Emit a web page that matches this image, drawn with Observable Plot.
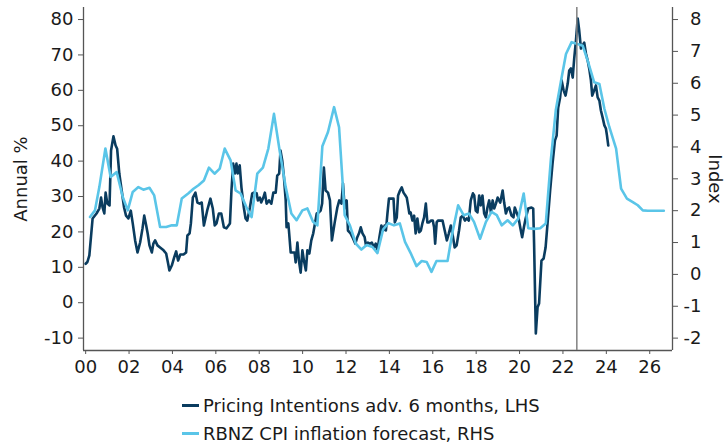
<!DOCTYPE html>
<html><head><meta charset="utf-8">
<script src="https://cdn.jsdelivr.net/npm/d3@7"></script>
<script src="https://cdn.jsdelivr.net/npm/@observablehq/plot@0.6"></script>
<style>
body{margin:0;background:#fff;font-family:"DejaVu Sans",Verdana,sans-serif;}
#chart svg{display:block}
#legend{margin-left:182px;margin-top:3px;font-size:18px;color:#1a1a1a}
.item{display:flex;align-items:center;height:28px;white-space:nowrap}
.sw{width:17px;height:3px;margin-right:4px}
</style></head><body><div id="chart"></div><div id="legend"></div>
<script>
// Pricing Intentions adv. 6 months (LHS, annual %)
const piYears = [2000.0,2000.08,2000.17,2000.32,2000.5,2000.63,2000.71,2000.78,2000.86,2000.92,2001.0,2001.1,2001.17,2001.28,2001.38,2001.45,2001.55,2001.66,2001.77,2001.86,2001.97,2002.08,2002.17,2002.28,2002.39,2002.51,2002.62,2002.7,2002.79,2002.86,2002.94,2003.05,2003.12,2003.2,2003.31,2003.43,2003.59,2003.71,2003.8,2003.86,2003.97,2004.08,2004.17,2004.26,2004.36,2004.51,2004.63,2004.69,2004.79,2004.85,2004.94,2005.06,2005.15,2005.25,2005.35,2005.45,2005.6,2005.75,2005.86,2005.95,2006.03,2006.14,2006.25,2006.37,2006.49,2006.65,2006.72,2006.8,2006.88,2006.95,2007.01,2007.1,2007.18,2007.29,2007.37,2007.45,2007.57,2007.68,2007.75,2007.88,2007.94,2008.03,2008.09,2008.19,2008.26,2008.34,2008.45,2008.56,2008.65,2008.76,2008.83,2008.92,2008.98,2009.06,2009.14,2009.22,2009.26,2009.34,2009.37,2009.45,2009.54,2009.63,2009.68,2009.76,2009.83,2009.91,2009.99,2010.06,2010.15,2010.22,2010.31,2010.4,2010.49,2010.57,2010.65,2010.75,2010.83,2010.9,2010.98,2011.06,2011.17,2011.26,2011.35,2011.48,2011.6,2011.69,2011.79,2011.86,2011.94,2012.03,2012.09,2012.21,2012.32,2012.43,2012.52,2012.6,2012.68,2012.76,2012.86,2012.92,2013.01,2013.1,2013.19,2013.29,2013.37,2013.45,2013.54,2013.63,2013.72,2013.78,2013.84,2013.91,2013.98,2014.09,2014.19,2014.25,2014.34,2014.4,2014.49,2014.57,2014.65,2014.74,2014.8,2014.86,2014.92,2014.98,2015.06,2015.14,2015.21,2015.29,2015.37,2015.45,2015.52,2015.6,2015.68,2015.75,2015.83,2015.91,2016.0,2016.06,2016.11,2016.18,2016.24,2016.34,2016.45,2016.55,2016.65,2016.74,2016.83,2016.92,2017.01,2017.1,2017.21,2017.29,2017.38,2017.48,2017.57,2017.66,2017.75,2017.85,2017.91,2017.98,2018.06,2018.14,2018.21,2018.29,2018.37,2018.45,2018.52,2018.6,2018.68,2018.76,2018.83,2018.91,2018.99,2019.11,2019.22,2019.29,2019.37,2019.45,2019.52,2019.63,2019.72,2019.78,2019.88,2019.95,2020.03,2020.12,2020.2,2020.28,2020.4,2020.55,2020.63,2020.67,2020.75,2020.83,2020.9,2021.01,2021.11,2021.2,2021.29,2021.41,2021.52,2021.63,2021.71,2021.78,2021.87,2021.94,2022.03,2022.12,2022.22,2022.29,2022.37,2022.45,2022.52,2022.6,2022.68,2022.75,2022.83,2022.91,2022.98,2023.06,2023.14,2023.21,2023.29,2023.35,2023.44,2023.52,2023.6,2023.68,2023.75,2023.83,2023.91,2023.98,2024.03,2024.09];
const piValues = [11,11.5,13.4,23.8,25.2,26.6,29.7,26.9,25.2,31.1,28,27.5,43,47,44.4,43.5,36.5,31.7,26.9,24.6,23.8,26,22.4,17.6,14.2,17,21,24.6,21.8,19.5,16.2,14.2,16.7,17.6,16.2,15.6,14.8,13.9,11.1,9.1,10.5,12.8,14.5,11.9,13.6,13.6,14.2,19,19.6,22.4,29.7,31.1,28.3,28,28.3,21.8,26,29.4,26.6,21.8,22.4,25.2,25.2,21.3,21,22.4,31.7,39.3,36.5,39.3,36.5,38.8,32.6,26.9,23.8,23.2,26.9,30.9,31.1,30.9,28.9,29.7,28.3,29.7,31.1,28,28.9,28,31.1,31.1,35.9,36.5,43,40.2,35.4,28.9,21.3,22.4,20.4,14.2,14.2,14.2,11.4,17,11.9,8.5,14.8,11.9,9.1,14.8,13.9,17.6,19.6,22.4,25.2,25.5,26,28,38.2,31.7,31.1,28.9,17.6,22.7,26.9,28.9,28,33.7,26.6,28.9,20.4,19.6,18.2,16.7,18.5,19.6,21.3,19.6,18.5,16.2,17,16.7,17,15.6,16.7,14.8,18.5,21.8,20.4,21.8,20.4,25.2,29.4,29.4,29.4,22.7,24.1,30.3,31.7,32.6,31.1,30.3,29.7,27.5,25.2,25.5,23.2,24.6,19.6,23.8,19.9,20.4,22.4,24.1,28,22.7,22.7,23.2,23.2,21.3,16.7,22.7,23.2,23.2,23.2,20.4,17.6,19.6,21.8,19,15.6,16.2,20.4,24.1,24.6,23.2,23.8,23.2,28.9,30.9,30.3,26,25.5,30.3,27.5,30.3,25.2,24.1,26.9,28.9,25.5,28.9,26.6,28,29.7,28.3,31.7,28.3,25.2,26.6,26.9,24.6,24.1,26.9,25.2,24.1,21.3,18.5,21.3,23.8,26.6,26.9,26.6,16.7,-8.7,-1.3,-0.2,11.9,12.5,15.6,22.4,31.7,39.3,45.8,47.2,55.1,58,62.8,60,58.5,61.9,65.6,66.2,63.6,69,74.1,80.3,76.9,71.8,72.7,73.5,70.4,68.4,66.2,62.8,58.5,60,61.4,58,57.1,54.3,52.3,50.1,49.2,47.2,44.4];

// RBNZ CPI inflation forecast (RHS, index)
const cpiYears = [2000.2,2000.43,2000.63,2000.91,2001.15,2001.43,2001.71,2001.94,2002.17,2002.43,2002.66,2002.94,2003.16,2003.43,2003.71,2003.97,2004.2,2004.43,2004.74,2004.97,2005.2,2005.45,2005.68,2005.94,2006.18,2006.41,2006.68,2006.91,2007.14,2007.4,2007.65,2007.91,2008.17,2008.42,2008.68,2008.94,2009.22,2009.48,2009.72,2009.99,2010.22,2010.48,2010.68,2010.91,2011.17,2011.45,2011.68,2011.94,2012.18,2012.45,2012.71,2012.95,2013.22,2013.45,2013.71,2013.95,2014.21,2014.48,2014.72,2014.98,2015.25,2015.49,2015.72,2015.94,2016.17,2016.45,2016.68,2016.91,2017.17,2017.42,2017.67,2017.9,2018.18,2018.45,2018.71,2018.95,2019.18,2019.45,2019.69,2019.94,2020.19,2020.4,2020.7,2020.95,2021.21,2021.44,2021.67,2021.9,2022.14,2022.4,2022.64,2022.91,2023.14,2023.44,2023.68,2023.91,2024.14,2024.45,2024.68,2024.95,2025.22,2025.45,2025.68,2025.91,2026.14,2026.38,2026.65];
const cpiValues = [1.8,2.01,2.74,3.95,3.06,3.21,2.43,2.01,2.59,2.74,2.66,2.72,2.48,1.49,1.49,1.54,1.54,2.38,2.55,2.69,2.8,2.95,3.35,3.16,3.32,3.95,3.58,2.64,2.54,2.12,1.8,3.16,3.35,3.95,5.04,3.89,2.74,1.91,1.7,2.01,2.07,1.65,1.54,4.02,4.47,5.25,4.62,1.86,1.54,0.97,0.78,0.92,0.86,0.67,1.41,1.61,1.54,1.6,1.02,0.67,0.26,0.42,0.39,0.08,0.42,0.42,0.42,1.33,2.17,1.86,1.91,1.65,1.12,1.65,1.96,1.86,1.54,1.7,1.54,1.75,2.54,1.45,1.43,1.45,1.6,3.58,5.15,6.03,6.92,7.29,7.24,7.18,6.71,6.03,5.98,5.2,4.62,3.95,2.69,2.38,2.27,2.17,2.01,2.0,2.0,2.0,2.0];

const xTickYears = [2000,2002,2004,2006,2008,2010,2012,2014,2016,2018,2020,2022,2024,2026];
const xTickLabels = ["00","02","04","06","08","10","12","14","16","18","20","22","24","26"];
const leftTicks = [-10,0,10,20,30,40,50,60,70,80];
const rightTicks = [-2,-1,0,1,2,3,4,5,6,7,8];
const markerYear = [2022.64];
const seriesNames = ["Pricing Intentions adv. 6 months, LHS","RBNZ CPI inflation forecast, RHS"];
const axisTitles = ["Annual %","Index"];
const colors = ["#0a3c5f","#5ac5e8"];
const xDomain = [1999.9, 2027.05];
const yDomain = [-13.5, 83.4];

// RHS maps onto LHS: right -2..8 <-> left -10..80
const toLeft = r => 9 * r + 8;
const fromLeft = l => (l - 8) / 9;

const piData = piYears.map((x, i) => ({x, y: piValues[i]}));
const cpiData = cpiYears.map((x, i) => ({x, y: toLeft(cpiValues[i])}));

const axisColor = "#555";
const chart = Plot.plot({
  width: 727, height: 388,
  marginLeft: 83, marginRight: 55, marginTop: 7, marginBottom: 38,
  style: {fontFamily: "'DejaVu Sans', Verdana, sans-serif", fontSize: "18px", color: "#1a1a1a", background: "white", overflow: "visible"},
  x: {domain: xDomain},
  y: {domain: yDomain},
  marks: [
    Plot.axisX({ticks: xTickYears, tickFormat: (d) => xTickLabels[xTickYears.indexOf(d)], tickSize: 4, tickPadding: 6, label: null, stroke: axisColor}),
    Plot.axisY({anchor: "left", ticks: leftTicks, tickFormat: d => String(d), tickSize: 5, tickPadding: 5, label: null, stroke: axisColor}),
    Plot.axisY({anchor: "right", ticks: rightTicks.map(toLeft), tickFormat: d => String(Math.round(fromLeft(d))), tickSize: 5, tickPadding: 24, textAnchor: "end", label: null, stroke: axisColor}),
    Plot.ruleX([xDomain[0], xDomain[1]], {stroke: axisColor, strokeWidth: 1.3}),
    Plot.ruleY([yDomain[0]], {stroke: axisColor, strokeWidth: 1.3}),
    Plot.lineY(piData, {x: "x", y: "y", stroke: colors[0], strokeWidth: 2.6}),
    Plot.lineY(cpiData, {x: "x", y: "y", stroke: colors[1], strokeWidth: 2.6}),
    Plot.ruleX(markerYear, {stroke: "#808080", strokeWidth: 1.5}),
    Plot.text([axisTitles[0]], {frameAnchor: "left", textAnchor: "middle", dx: -62, rotate: -90, fontSize: 18, fill: "#1a1a1a"}),
    Plot.text([axisTitles[1]], {frameAnchor: "right", textAnchor: "middle", dx: 42, rotate: 90, fontSize: 18, fill: "#1a1a1a"})
  ]
});
document.getElementById("chart").appendChild(chart);

const legend = document.getElementById("legend");
seriesNames.forEach((name, i) => {
  const item = document.createElement("div");
  item.className = "item";
  const sw = document.createElement("span");
  sw.className = "sw";
  sw.style.background = colors[i];
  const label = document.createElement("span");
  label.textContent = name;
  item.appendChild(sw);
  item.appendChild(label);
  legend.appendChild(item);
});
</script>
</body></html>
